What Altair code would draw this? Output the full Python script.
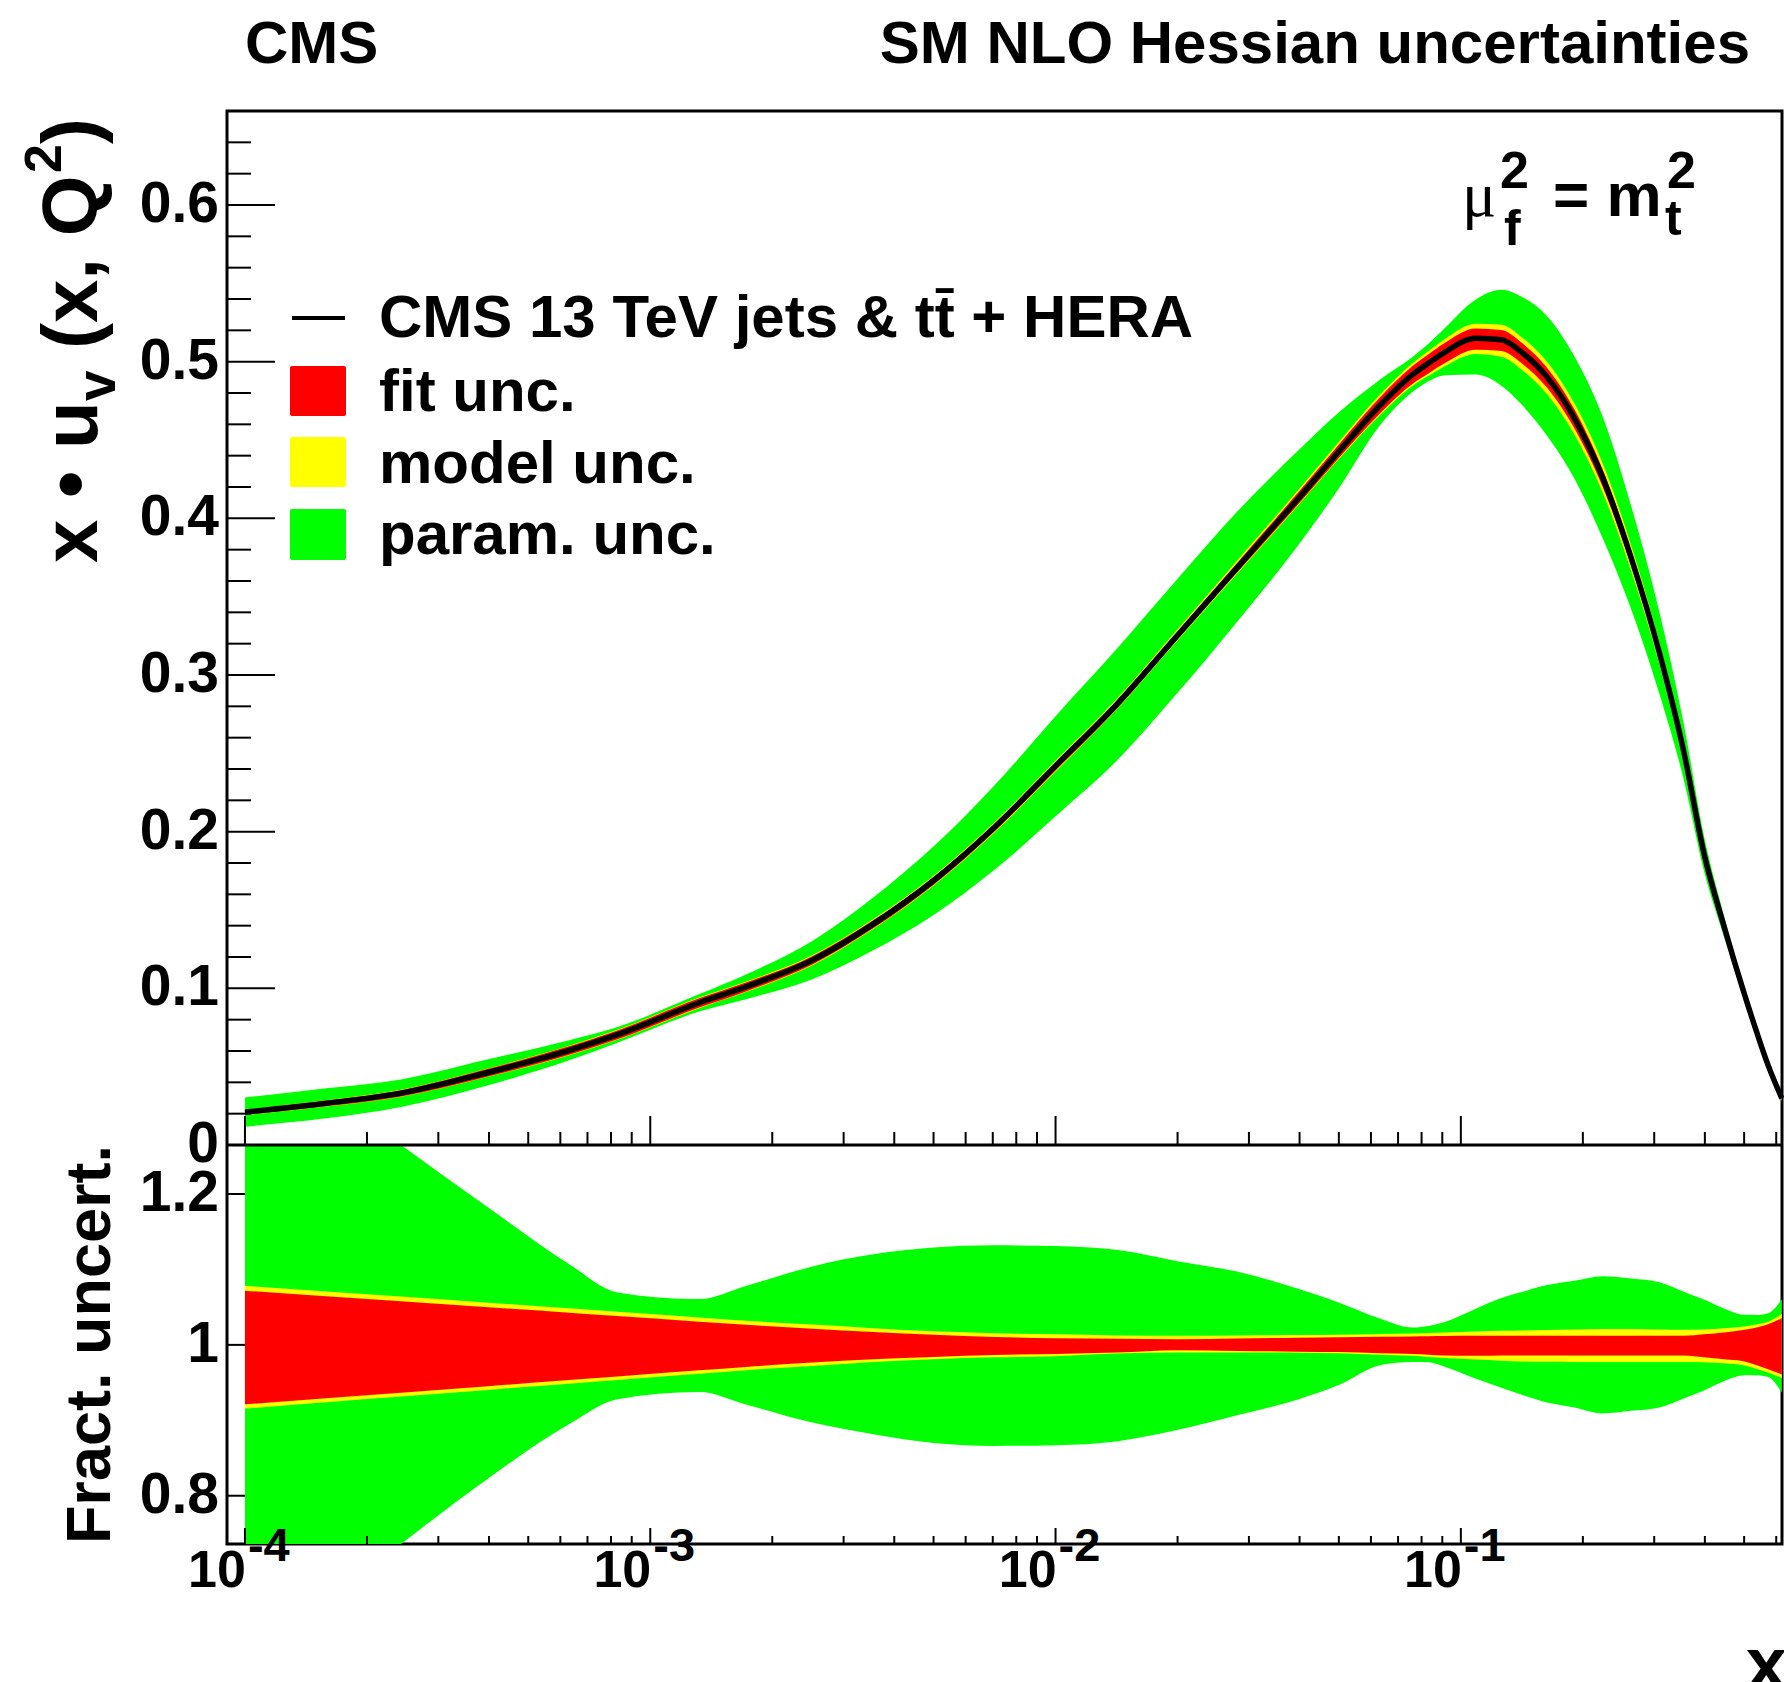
import numpy as np
import pandas as pd
import altair as alt

# ---------------- data ----------------
LOG_X = [-4.0, -3.8, -3.615, -3.4, -3.2, -3.081, -2.879, -2.764, -2.6, -2.45,
         -2.3, -2.15, -2.0, -1.85, -1.7, -1.55, -1.4, -1.3, -1.2, -1.118,
         -1.08, -1.04, -0.963, -0.9, -0.85, -0.79, -0.72, -0.65, -0.58, -0.51,
         -0.45, -0.40, -0.35, -0.30, -0.27, -0.242, -0.208]
CENTRAL = [0.0209, 0.0266, 0.0331, 0.0463, 0.0604, 0.0704, 0.0908, 0.101, 0.118, 0.141,
           0.169, 0.203, 0.242, 0.281, 0.325, 0.369, 0.413, 0.443, 0.472, 0.492,
           0.499, 0.506, 0.515, 0.514, 0.506, 0.491, 0.464, 0.426, 0.375, 0.314,
           0.251, 0.186, 0.139, 0.096, 0.072, 0.051, 0.0298]
PARAM_HI = [1.45, 1.36, 1.265, 1.182, 1.107, 1.0696, 1.0607, 1.078, 1.104, 1.120,
            1.129, 1.132, 1.131, 1.126, 1.111, 1.097, 1.074, 1.056, 1.035, 1.023,
            1.025, 1.0304, 1.048, 1.062, 1.070, 1.079, 1.085, 1.091, 1.088, 1.083,
            1.0705, 1.060, 1.048, 1.0398, 1.0397, 1.042, 1.0607]
PARAM_LO = [0.56, 0.64, 0.733, 0.823, 0.895, 0.928, 0.9376, 0.921, 0.897, 0.8816,
            0.870, 0.866, 0.867, 0.872, 0.887, 0.907, 0.928, 0.947, 0.973, 0.9774,
            0.977, 0.9711, 0.955, 0.943, 0.934, 0.924, 0.917, 0.909, 0.9125, 0.917,
            0.929, 0.9395, 0.952, 0.9597, 0.9596, 0.9575, 0.9367]
MODEL_HI = [1.0784, 1.0709, 1.064, 1.0559, 1.0484, 1.0439, 1.0363, 1.032, 1.027, 1.0221,
            1.018, 1.0155, 1.014, 1.0125, 1.012, 1.0125, 1.013, 1.0135, 1.0145, 1.015,
            1.0158, 1.0165, 1.0178, 1.0186, 1.019, 1.0197, 1.0203, 1.021, 1.021, 1.0205,
            1.020, 1.0205, 1.022, 1.0245, 1.027, 1.0305, 1.0411]
MODEL_LO = [0.9155, 0.9238, 0.9314, 0.9403, 0.9486, 0.9535, 0.9617, 0.9665, 0.972, 0.9774,
            0.981, 0.9835, 0.985, 0.9885, 0.990, 0.990, 0.9895, 0.989, 0.987, 0.9855,
            0.984, 0.9825, 0.9805, 0.979, 0.978, 0.9775, 0.9774, 0.9774, 0.9774, 0.9774,
            0.9774, 0.977, 0.9755, 0.9725, 0.968, 0.9633, 0.9562]
FIT_HI = [1.0718, 1.0645, 1.0577, 1.0499, 1.0426, 1.0382, 1.0308, 1.0266, 1.0215, 1.0172,
          1.0135, 1.0105, 1.0088, 1.008, 1.0076, 1.0085, 1.0095, 1.0102, 1.0108, 1.0112,
          1.0115, 1.0117, 1.012, 1.012, 1.012, 1.012, 1.012, 1.012, 1.012, 1.012,
          1.012, 1.014, 1.0165, 1.020, 1.023, 1.0274, 1.0354]
FIT_LO = [0.9212, 0.9292, 0.9366, 0.9452, 0.9533, 0.958, 0.9662, 0.9708, 0.9765, 0.9809,
          0.984, 0.9865, 0.988, 0.990, 0.993, 0.992, 0.991, 0.9905, 0.989, 0.988,
          0.987, 0.986, 0.9855, 0.986, 0.986, 0.986, 0.986, 0.986, 0.986, 0.986,
          0.986, 0.9835, 0.981, 0.978, 0.973, 0.9677, 0.9606]
CLIP_LOGX = -3.615   # where the param. band leaves the ratio panel

X_MAJOR = [1e-4, 1e-3, 1e-2, 1e-1]
X_EXP_LABELS = ["-4", "-3", "-2", "-1"]
Y_UP_MAJOR = [0.0, 0.1, 0.2, 0.3, 0.4, 0.5, 0.6]
Y_UP_LABELS = ["0", "0.1", "0.2", "0.3", "0.4", "0.5", "0.6"]
Y_LO_MAJOR = [0.8, 1.0, 1.2]
Y_LO_LABELS = ["0.8", "1", "1.2"]
LEGEND_LABELS = ["CMS 13 TeV jets & tt\u0304 + HERA", "fit unc.", "model unc.", "param. unc."]

XMIN, XMAX = 9.03e-5, 0.62
W, H, YU = 1555, 1433, 1034
FONT = "Liberation Sans"
GREEN, YELLOW, RED = "#00ff00", "#ffff00", "#ff0000"
INTERP = "monotone"

df = pd.DataFrame({"logx": LOG_X, "central": CENTRAL,
                   "p_hi": PARAM_HI, "p_lo": PARAM_LO,
                   "m_hi": MODEL_HI, "m_lo": MODEL_LO,
                   "f_hi": FIT_HI, "f_lo": FIT_LO})
df["x"] = 10.0 ** df["logx"]
for k in ["p_hi", "p_lo", "m_hi", "m_lo", "f_hi", "f_lo"]:
    df["u_" + k] = df[k] * df["central"]
df_clip = df[df["logx"] <= CLIP_LOGX]
df_rest = df[df["logx"] >= CLIP_LOGX]

x_minor = [m * 10.0 ** e for e in (-4, -3, -2, -1) for m in range(2, 10) if m * 10.0 ** e <= XMAX]
y_minor = [round(0.02 * i, 2) for i in range(0, 34) if i % 5 != 0]

xs = alt.Scale(type="log", domain=[XMIN, XMAX], nice=False)
yu = alt.Scale(domain=[0, 0.66], range=[YU, 0], nice=False, zero=False, clamp=True)
yl = alt.Scale(domain=[0.736, 1.265], range=[H, YU], nice=False, zero=False, clamp=True)

X = alt.X("x:Q", scale=xs, axis=None)
layers = []

def band(data, lo, hi, color, scale, interp=INTERP):
    return alt.Chart(data).mark_area(color=color, orient="vertical", opacity=1,
                                     interpolate=interp).encode(
        x=X, y=alt.Y(lo + ":Q", scale=scale, axis=None), y2=alt.Y2(hi + ":Q"))

# upper panel bands + central line
layers += [band(df, "u_p_lo", "u_p_hi", GREEN, yu), band(df, "u_m_lo", "u_m_hi", YELLOW, yu),
           band(df, "u_f_lo", "u_f_hi", RED, yu)]
layers.append(alt.Chart(df).mark_line(color="black", strokeWidth=5.5, interpolate=INTERP).encode(
    x=X, y=alt.Y("central:Q", scale=yu, axis=None)))
# lower panel bands (param. band clipped at the panel edges on the left)
layers += [band(df_clip, "p_lo", "p_hi", GREEN, yl, "linear"),
           band(df_rest, "p_lo", "p_hi", GREEN, yl),
           band(df, "m_lo", "m_hi", YELLOW, yl), band(df, "f_lo", "f_hi", RED, yl)]

# ---- ticks (inward, ROOT style) ----
def xticks(vals, y0, y1):
    return alt.Chart(pd.DataFrame({"t": vals})).mark_rule(color="black", strokeWidth=2).encode(
        x=alt.X("t:Q", scale=xs, axis=None), y=alt.value(y0), y2=alt.value(y1))

layers += [xticks(X_MAJOR, YU - 29, YU), xticks(x_minor, YU - 13, YU),
           xticks(X_MAJOR, H - 16, H), xticks(x_minor, H - 8, H)]

def yticks(vals, scale, length):
    return alt.Chart(pd.DataFrame({"v": vals})).mark_rule(color="black", strokeWidth=2).encode(
        y=alt.Y("v:Q", scale=scale, axis=None), x=alt.value(0), x2=alt.value(length))

layers += [yticks(Y_UP_MAJOR, yu, 48), yticks(y_minor, yu, 24), yticks(Y_LO_MAJOR, yl, 18)]

# separator
one = pd.DataFrame({"k": [0]})
layers.append(alt.Chart(one).mark_rule(color="black", strokeWidth=3).encode(
    x=alt.value(0), x2=alt.value(W), y=alt.value(YU)))

# ---- tick labels ----
layers.append(alt.Chart(pd.DataFrame({"v": Y_UP_MAJOR, "lab": Y_UP_LABELS})).mark_text(
    font=FONT, fontWeight="bold", fontSize=57, align="right", baseline="middle").encode(
    y=alt.Y("v:Q", scale=yu, axis=None), x=alt.value(-8), text="lab:N"))
layers.append(alt.Chart(pd.DataFrame({"v": Y_LO_MAJOR, "lab": Y_LO_LABELS})).mark_text(
    font=FONT, fontWeight="bold", fontSize=57, align="right", baseline="middle").encode(
    y=alt.Y("v:Q", scale=yl, axis=None), x=alt.value(-8), text="lab:N"))
xl = pd.DataFrame({"t": X_MAJOR, "e": X_EXP_LABELS, "ten": ["10"] * 4})
layers.append(alt.Chart(xl).mark_text(font=FONT, fontWeight="bold", fontSize=52,
                                      align="right", baseline="alphabetic", dx=1).encode(
    x=alt.X("t:Q", scale=xs, axis=None), y=alt.value(H + 43), text="ten:N"))
layers.append(alt.Chart(xl).mark_text(font=FONT, fontWeight="bold", fontSize=47,
                                      align="left", baseline="alphabetic", dx=3).encode(
    x=alt.X("t:Q", scale=xs, axis=None), y=alt.value(H + 17), text="e:N"))

def txt(s, x, y, size=60, align="left", angle=0, weight="bold", font=FONT, baseline="alphabetic"):
    return alt.Chart(one).mark_text(text=s, font=font, fontWeight=weight, fontSize=size,
                                    align=align, angle=angle, baseline=baseline).encode(
        x=alt.value(x), y=alt.value(y))

# titles
layers.append(txt("CMS", 18, -48))
layers.append(txt("SM NLO Hessian uncertainties", 1523, -48, align="right"))
# x axis title
layers.append(txt("x", 1560, 1578, size=74, align="right"))
# y titles (rotated)
layers.append(txt("Fract. uncert.", -117, YU, size=63, align="right", angle=270))
layers += [txt("x \u2022 u", -130, 452, size=78, angle=270),
           txt("v", -112, 290, size=55, angle=270),
           txt("(x, Q", -130, 238, size=78, angle=270),
           txt("2", -166, 62, size=52, angle=270),
           txt(")", -130, 33, size=78, angle=270)]

# annotation mu_f^2 = m_t^2
layers += [txt("\u03bc", 1235, 105, size=64, weight="normal", font="Liberation Serif"),
           txt("2", 1273, 77, size=52),
           txt("f", 1277, 134, size=50),
           txt("= m", 1326, 105, size=62),
           txt("2", 1440, 77, size=52),
           txt("t", 1438, 124, size=50)]

# legend
layers.append(alt.Chart(one).mark_rule(color="black", strokeWidth=4).encode(
    x=alt.value(65), x2=alt.value(118), y=alt.value(207)))
for (y0, y1, c) in [(255, 305, RED), (326, 376, YELLOW), (398, 449, GREEN)]:
    layers.append(alt.Chart(one).mark_rect(color=c, cornerRadius=2).encode(
        x=alt.value(63), x2=alt.value(119), y=alt.value(y0), y2=alt.value(y1)))
for lab, yb in zip(LEGEND_LABELS, [225.5, 299.5, 371.5, 443]):
    layers.append(txt(lab, 152, yb, size=60))

chart = alt.layer(*layers).resolve_scale(y="independent").properties(
    width=W, height=H,
    padding={"left": 227, "top": 111, "right": 2, "bottom": 138},
    autosize=alt.AutoSizeParams(type="none"),
    background="white",
).configure_view(stroke="black", strokeWidth=3)

chart.save("out.html", embed_options={"renderer": "svg", "actions": False})
